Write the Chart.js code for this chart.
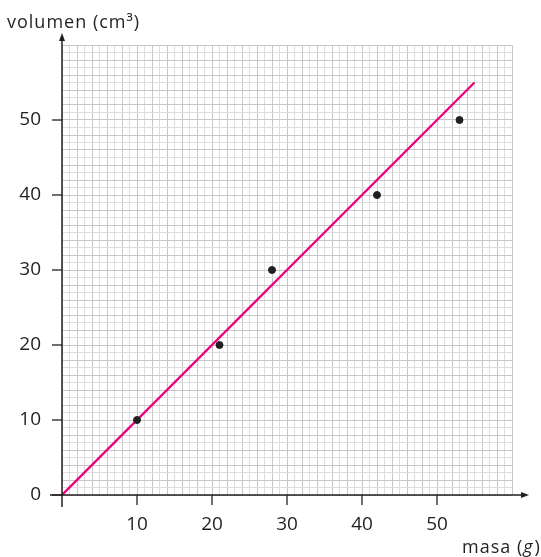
<!DOCTYPE html>
<html><head><meta charset="utf-8">
<script src="https://cdn.jsdelivr.net/npm/chart.js@4/dist/chart.umd.min.js"></script>
<style>html,body{margin:0;padding:0;background:#fff}#wrap{width:541px;height:557px;position:relative}</style>
</head><body><div id="wrap"><canvas id="c" width="541" height="557"></canvas></div>
<script>
// Data
const masa = [10, 21, 28, 42, 53];
const volumen = [10, 20, 30, 40, 50];
const fitX = [0, 55];
const fitY = [0, 55];
const xTickLabels = [10, 20, 30, 40, 50];
const yTickLabels = [0, 10, 20, 30, 40, 50];
const xTitle = 'masa';
const xUnit = 'g';
const yTitle = 'volumen (cm³)';

const FONT = '"Open Sans", "Noto Sans", sans-serif';
const INK = '#231f20';

const axesPlugin = {
  id: 'axesPlugin',
  afterDraw(chart) {
    const ctx = chart.ctx;
    const xs = chart.scales.x, ys = chart.scales.y;
    const x0 = xs.getPixelForValue(0), y0 = ys.getPixelForValue(0);
    const xEnd = xs.right + 10, yEnd = ys.top - 5;
    ctx.save();
    ctx.strokeStyle = INK; ctx.fillStyle = INK; ctx.lineWidth = 1.5;
    // x axis
    ctx.beginPath(); ctx.moveTo(x0 - 12, y0); ctx.lineTo(xEnd, y0); ctx.stroke();
    ctx.beginPath(); ctx.moveTo(xEnd + 7, y0); ctx.lineTo(xEnd - 1, y0 - 3); ctx.lineTo(xEnd - 1, y0 + 3); ctx.closePath(); ctx.fill();
    // y axis
    ctx.beginPath(); ctx.moveTo(x0, y0 + 12); ctx.lineTo(x0, yEnd); ctx.stroke();
    ctx.beginPath(); ctx.moveTo(x0, yEnd - 7); ctx.lineTo(x0 - 3, yEnd + 1); ctx.lineTo(x0 + 3, yEnd + 1); ctx.closePath(); ctx.fill();
    // ticks
    ctx.lineWidth = 1.3;
    xTickLabels.forEach(v => { const p = xs.getPixelForValue(v); ctx.beginPath(); ctx.moveTo(p, y0); ctx.lineTo(p, y0 + 10); ctx.stroke(); });
    yTickLabels.forEach(v => { const p = ys.getPixelForValue(v); ctx.beginPath(); ctx.moveTo(x0, p); ctx.lineTo(x0 - 10, p); ctx.stroke(); });
    // titles
    ctx.textBaseline = 'alphabetic';
    ctx.textAlign = 'left';
    try { ctx.letterSpacing = '1px'; } catch (e) {}
    ctx.font = '18px ' + FONT;
    ctx.fillText(yTitle, 7, 28);
    const part1 = xTitle + ' (';
    let tx = 462;
    ctx.fillText(part1, tx, 553); tx += ctx.measureText(part1).width;
    ctx.font = 'italic 18px ' + FONT;
    ctx.fillText(xUnit, tx, 553); tx += ctx.measureText(xUnit).width + 1;
    ctx.font = '18px ' + FONT;
    ctx.fillText(')', tx, 553);
    ctx.restore();
  }
};

new Chart(document.getElementById('c'), {
  type: 'scatter',
  data: {
    datasets: [
      {
        type: 'line',
        data: fitX.map((x, i) => ({ x, y: fitY[i] })),
        borderColor: '#e8007f', borderWidth: 2.3, pointRadius: 0, fill: false, order: 2
      },
      {
        data: masa.map((x, i) => ({ x, y: volumen[i] })),
        backgroundColor: INK, borderColor: INK, pointRadius: 3.5, order: 1
      }
    ]
  },
  options: {
    responsive: false, animation: false,
    layout: { padding: { top: 45, right: 29, left: 0, bottom: 0 } },
    plugins: { legend: { display: false }, tooltip: { enabled: false } },
    scales: {
      x: {
        type: 'linear', min: 0, max: 60,
        afterFit(s) { s.height = 62; },
        border: { display: false },
        grid: {
          drawTicks: false,
          color: c => (c.tick && c.tick.value % 2 === 0) ? '#c6c6c8' : '#dedee0',
          lineWidth: 1
        },
        ticks: {
          stepSize: 1, autoSkip: false, maxRotation: 0, padding: 18,
          color: INK, font: { family: FONT, size: 19 },
          callback: v => xTickLabels.includes(v) ? String(v) : ''
        }
      },
      y: {
        type: 'linear', min: 0, max: 60,
        afterFit(s) { s.width = 62; },
        border: { display: false },
        grid: {
          drawTicks: false,
          color: c => (c.tick && c.tick.value % 2 === 0) ? '#c6c6c8' : '#dedee0',
          lineWidth: 1
        },
        ticks: {
          stepSize: 1, autoSkip: false, padding: 21,
          color: INK, font: { family: FONT, size: 19 },
          callback: v => yTickLabels.includes(v) ? String(v) : ''
        }
      }
    }
  },
  plugins: [axesPlugin]
});
</script>
</body></html>
